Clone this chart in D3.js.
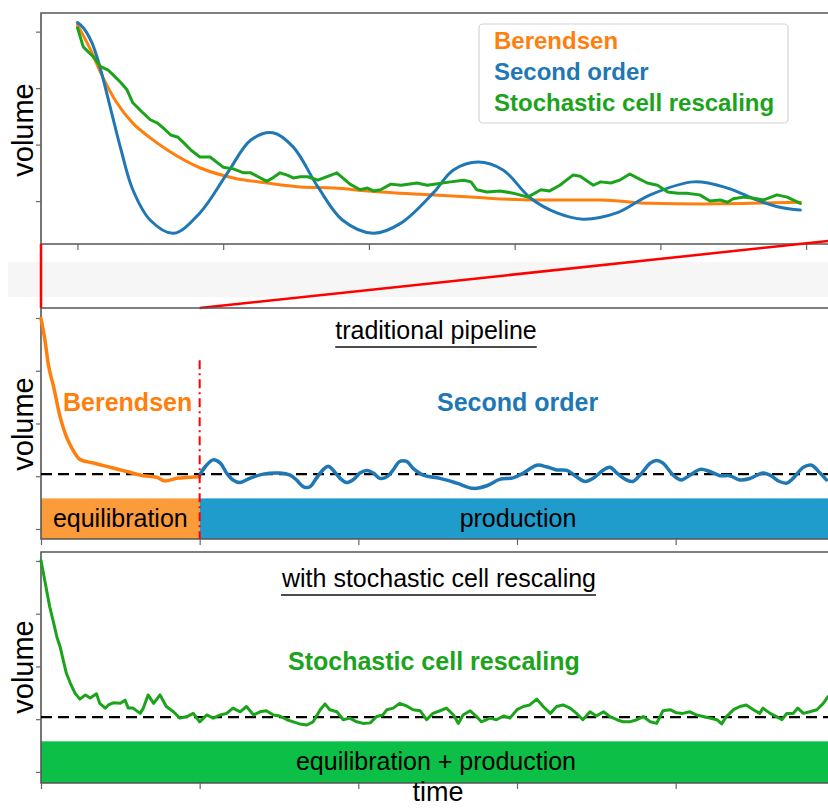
<!DOCTYPE html>
<html>
<head>
<meta charset="utf-8">
<script src="https://cdn.jsdelivr.net/npm/d3@7"></script>
<style>
  body { margin: 0; background: #fff; }
  text { font-family: "Liberation Sans", Arial, Helvetica, sans-serif; }
</style>
</head>
<body>
<div id="chart"></div>
<script>
// ---- data (time, volume) ----
// top panel: zoom on the start of the run
var zoomBerendsen = [[0,41.2],[0.9,36.8],[1.6,32.7],[2.7,27.4],[3.8,23.8],[5.0,21.2],[6.2,19.0],[8.4,15.9],
  [10.7,14.1],[13.0,13.2],[15.3,12.5],[17.6,12.3],[19.9,11.8],[23.5,11.2],[27.0,10.7],[31.3,10.2],
  [35.9,10.2],[39.3,9.6],[42.7,9.5],[46.2,9.6],[49.6,9.8]];
var zoomSecondOrder = [[0,41.6],[0.4,40.7],[1.0,38.0],[1.6,33.2],[2.3,26.1],[3.0,19.0],[3.8,12.0],[5.0,6.6],
  [6.6,4.3],[8.4,7.9],[10.3,15.0],[11.9,20.8],[13.4,22.1],[14.8,19.6],[16.5,12.5],[18.2,6.6],[20.3,4.3],
  [22.2,6.1],[24.4,11.4],[25.8,15.5],[27.5,16.9],[29.2,15.5],[31.1,10.5],[32.9,7.9],[34.7,6.8],[37.0,7.9],
  [39.3,11.1],[42.3,13.4],[44.6,12.3],[46.6,10.2],[48.2,8.9],[49.6,8.4]];
var zoomStochastic = [[0,40.7],[0.4,37.3],[1.1,35.5],[1.6,33.8],[2.1,33.2],[2.5,32.2],[3.0,30.9],[3.4,29.7],
  [3.8,27.4],[4.5,25.6],[5.0,24.4],[5.5,23.8],[5.9,22.9],[6.4,21.7],[6.9,21.3],[7.3,20.3],[7.8,19.0],
  [8.4,17.8],[9.1,17.8],[10.0,16.0],[10.7,15.7],[11.4,15.0],[11.9,15.0],[12.4,14.3],[13.0,13.5],[13.4,14.1],
  [13.9,15.0],[14.4,14.6],[14.8,14.1],[15.3,14.3],[15.8,14.3],[16.5,13.7],[16.9,14.1],[17.4,14.6],[17.8,15.0],
  [18.2,14.1],[18.7,13.0],[19.4,12.0],[19.9,12.3],[20.3,11.8],[20.8,12.0],[21.5,13.0],[22.2,12.8],[23.3,13.2],
  [24.0,12.8],[25.6,13.4],[26.5,13.7],[27.0,13.4],[27.4,12.0],[28.1,11.6],[29.0,11.8],[29.9,11.4],[30.9,10.7],
  [31.8,12.0],[32.4,11.8],[33.1,12.8],[34.0,14.6],[34.5,14.4],[35.4,12.8],[35.9,13.4],[36.6,13.2],[37.2,13.7],
  [37.9,14.8],[38.4,14.1],[39.1,13.2],[39.8,12.8],[40.5,11.6],[41.2,11.4],[41.8,11.4],[42.7,11.1],[43.4,10.0],
  [44.1,10.2],[44.6,9.8],[45.0,10.4],[45.7,10.7],[46.4,10.5],[47.1,10.2],[48.0,11.1],[48.7,10.7],[49.6,9.6]];
var zoomTicksX = [0, 10, 20, 30, 40, 50];
var zoomTicksY = [10, 20, 30, 40];

// middle panel: traditional pipeline
var runBerendsen = [[0,49.9],[0.5,45.8],[0.9,41.4],[1.6,36.9],[2.4,31.3],[3.2,27.5],[3.9,25.3],[4.9,23.2],
  [6.6,22.5],[8.7,21.7],[10.8,20.9],[12.9,20.1],[14.6,19.8],[15.6,19.1],[17.1,19.6],[18.8,19.8],[20.0,19.9]];
var runSecondOrder = [[20.0,20.2],[20.7,21.8],[21.7,23.1],[22.6,22.5],[23.4,20.6],[24.2,19.3],[25.1,18.8],
  [26.3,19.6],[28.0,20.4],[30.1,20.6],[31.4,20.2],[32.2,19.3],[33.1,18.0],[33.9,18.0],[34.7,19.6],[35.6,21.3],
  [36.2,21.9],[36.8,21.2],[37.7,19.6],[38.5,18.8],[39.4,19.4],[40.2,20.6],[41.1,21.1],[41.9,20.6],[42.7,19.6],
  [43.6,19.9],[44.4,21.2],[45.2,22.8],[46.1,22.8],[46.9,21.5],[48.2,20.2],[50.3,19.6],[52.4,18.7],[54.5,17.7],
  [56.2,18.2],[57.8,19.4],[59.5,19.7],[60.8,20.6],[62.5,22.1],[63.7,21.8],[65.0,21.2],[66.3,21.1],[67.5,19.9],
  [68.6,19.0],[69.6,19.6],[70.9,21.2],[71.7,21.7],[72.6,20.6],[73.8,19.3],[74.6,19.0],[75.5,20.2],[76.8,22.5],
  [77.6,23.0],[78.4,22.5],[79.7,20.2],[80.7,19.3],[81.8,20.2],[83.1,21.3],[84.3,20.9],[85.6,20.1],[86.8,20.1],
  [88.1,19.3],[89.4,19.6],[91.0,20.6],[91.9,20.2],[93.1,19.0],[94.0,18.7],[94.8,19.6],[96.1,21.7],[97.1,22.1],
  [98.2,20.6],[99.0,19.3]];

// bottom panel: stochastic cell rescaling for the whole run
var runStochastic = [[0,50.1],[0.3,47.7],[0.7,44.5],[1.1,41.3],[1.6,38.2],[2.0,35.6],[2.4,33.8],[2.8,31.2],
  [3.2,28.7],[3.7,26.8],[4.3,24.9],[4.9,23.8],[5.6,24.6],[6.2,24.0],[7.0,24.8],[7.4,23.0],[8.1,22.1],[8.5,22.7],
  [9.1,23.1],[10.0,23.0],[10.6,23.6],[11.0,22.1],[11.6,22.1],[12.5,21.1],[12.9,22.1],[13.5,24.6],[14.2,23.0],
  [15.0,24.6],[15.8,22.4],[16.7,21.4],[17.5,20.2],[18.4,20.5],[19.2,21.1],[20.0,19.5],[20.9,20.8],[21.7,20.2],
  [22.6,20.8],[23.4,21.1],[24.2,22.1],[25.1,21.4],[25.9,22.4],[26.8,20.8],[27.6,21.4],[28.4,21.6],[29.3,20.8],
  [30.1,20.6],[31.0,19.9],[31.8,19.5],[32.6,19.1],[33.5,18.9],[34.3,19.5],[35.2,21.8],[35.8,22.9],[36.4,21.8],
  [37.3,21.4],[38.1,19.9],[38.9,20.2],[39.8,19.5],[40.6,19.2],[41.5,19.3],[42.3,20.5],[43.1,20.8],[43.6,21.8],
  [44.4,22.1],[45.2,23.0],[46.1,22.5],[46.9,21.8],[47.8,21.6],[48.6,19.9],[49.4,21.1],[50.3,21.6],[51.1,22.1],
  [52.0,20.8],[52.6,19.2],[53.2,20.8],[54.1,21.6],[54.9,20.5],[55.5,19.5],[56.6,20.2],[57.4,19.9],[58.3,20.6],
  [59.1,20.2],[60.0,21.8],[60.8,22.4],[61.6,22.7],[62.5,23.8],[63.3,22.4],[64.2,21.1],[65.0,22.4],[65.8,22.7],
  [66.7,22.1],[67.5,21.1],[68.3,19.9],[69.2,21.4],[70.0,20.6],[70.9,21.4],[71.7,20.5],[72.6,19.9],[73.4,19.5],
  [74.2,19.5],[75.1,19.9],[75.9,20.5],[76.8,19.5],[77.6,19.2],[78.4,21.6],[79.3,21.8],[80.1,21.2],[80.9,21.1],
  [81.8,21.4],[82.6,20.8],[83.5,20.5],[84.3,20.2],[85.2,19.9],[85.8,19.1],[86.4,20.5],[87.3,21.8],[88.1,22.4],
  [88.9,22.7],[89.8,21.8],[90.6,21.1],[91.0,22.1],[91.9,21.1],[92.7,20.5],[93.4,19.9],[94.0,21.1],[94.8,21.1],
  [95.4,22.1],[96.1,21.1],[96.9,21.4],[97.8,21.8],[98.6,23.0],[99.2,24.3]];

var runTicksX = [0, 20, 40, 60, 80];
var runTicksY = [10, 20, 30, 40, 50];
var targetVolume = 20.4;     // dashed reference line
var equilibrationEnd = 20;   // switch from Berendsen to second order
var phaseBarTop = 15.8;      // top of the phase bars, in volume units

var orange = '#ff7f0e', blue = '#1f77b4', green = '#1ca31c';

var W = 828, H = 809;
var svg = d3.select('#chart').append('svg')
    .attr('width', W)
    .attr('height', H);

// scales
var xZoom = d3.scaleLinear().domain([-2.5, 51.5]).range([41, 828]);
var yZoom = d3.scaleLinear().domain([2.4, 43.3]).range([244, 13]);
var xRun = d3.scaleLinear().domain([0, 99.2]).range([41, 828]);
var yMid = d3.scaleLinear().domain([8.1, 51.9]).range([539, 308]);
var yLow = d3.scaleLinear().domain([7.9, 51.7]).range([783, 552]);

function frame(x, y) {
    var x0 = x.range()[0], x1 = x.range()[1];
    var y0 = y.range()[0], y1 = y.range()[1];
    svg.append('path')
        .attr('d', 'M' + x1 + ',' + y1 + 'H' + x0 + 'V' + y0 + 'H' + x1)
        .attr('fill', 'none')
        .attr('stroke', '#555')
        .attr('stroke-width', 1.6);
}

function axes(x, y, xt, yt) {
    var gx = svg.append('g')
        .attr('transform', 'translate(0,' + y.range()[0] + ')')
        .call(d3.axisBottom(x).tickValues(xt).tickSize(6).tickFormat(''));
    var gy = svg.append('g')
        .attr('transform', 'translate(' + x.range()[0] + ',0)')
        .call(d3.axisLeft(y).tickValues(yt).tickSize(5).tickFormat(''));
    [gx, gy].forEach(function (g) {
        g.select('.domain').remove();
        g.selectAll('.tick line').attr('stroke', '#666').attr('stroke-width', 1.2);
    });
}

function curve(data, x, y, color, width, shape) {
    var line = d3.line()
        .x(function (d) { return x(d[0]); })
        .y(function (d) { return y(d[1]); })
        .curve(shape || d3.curveLinear);
    svg.append('path')
        .datum(data)
        .attr('d', line)
        .attr('fill', 'none')
        .attr('stroke', color)
        .attr('stroke-width', width)
        .attr('stroke-linejoin', 'round')
        .attr('stroke-linecap', 'round');
}

function volumeLabel(cy) {
    svg.append('text')
        .attr('transform', 'translate(33,' + cy + ') rotate(-90)')
        .attr('text-anchor', 'middle')
        .style('font-size', '29px')
        .text('volume');
}

function heading(txt, cx, baseline) {
    var t = svg.append('text')
        .attr('x', cx).attr('y', baseline)
        .attr('text-anchor', 'middle')
        .style('font-size', '25px')
        .text(txt);
    var bb = t.node().getBBox();
    svg.append('line')
        .attr('x1', bb.x).attr('x2', bb.x + bb.width)
        .attr('y1', baseline + 8).attr('y2', baseline + 8)
        .attr('stroke', '#111').attr('stroke-width', 1.6);
}

function boldLabel(txt, x, baseline, color, size) {
    svg.append('text')
        .attr('x', x).attr('y', baseline)
        .style('font-size', (size || 25) + 'px')
        .style('font-weight', 'bold')
        .attr('fill', color)
        .text(txt);
}

function refLine(y) {
    svg.append('line')
        .attr('x1', xRun(0)).attr('x2', xRun.range()[1])
        .attr('y1', y(targetVolume)).attr('y2', y(targetVolume))
        .attr('stroke', '#000')
        .attr('stroke-width', 2.4)
        .attr('stroke-dasharray', '11,6');
}

////////////////////////////////
// top panel
frame(xZoom, yZoom);
axes(xZoom, yZoom, zoomTicksX, zoomTicksY);
curve(zoomBerendsen, xZoom, yZoom, orange, 3, d3.curveMonotoneX);
curve(zoomSecondOrder, xZoom, yZoom, blue, 3, d3.curveCatmullRom);
curve(zoomStochastic, xZoom, yZoom, green, 3);
volumeLabel(130);

// legend
svg.append('rect')
    .attr('x', 479).attr('y', 24).attr('width', 309).attr('height', 99)
    .attr('rx', 4)
    .attr('fill', '#fff').attr('fill-opacity', 0.85)
    .attr('stroke', '#d4d4d4').attr('stroke-width', 1.2);
boldLabel('Berendsen', 494, 49, orange, 24);
boldLabel('Second order', 494, 80, blue, 24);
boldLabel('Stochastic cell rescaling', 494, 111, green, 24);

////////////////////////////////
// connector between zoom and full run
svg.append('rect')
    .attr('x', 8).attr('y', 262).attr('width', 820).attr('height', 35)
    .attr('fill', '#f6f6f6');
svg.append('line')
    .attr('x1', xRun(0)).attr('x2', xRun(0))
    .attr('y1', yZoom.range()[0]).attr('y2', yMid.range()[1])
    .attr('stroke', 'red').attr('stroke-width', 2.5);
svg.append('line')
    .attr('x1', xRun(equilibrationEnd)).attr('y1', yMid.range()[1])
    .attr('x2', xZoom.range()[1]).attr('y2', yZoom.range()[0] - 3)
    .attr('stroke', 'red').attr('stroke-width', 2.5);

////////////////////////////////
// middle panel: traditional pipeline
svg.append('rect')
    .attr('x', xRun(0)).attr('y', yMid(phaseBarTop))
    .attr('width', xRun(equilibrationEnd) - xRun(0))
    .attr('height', yMid.range()[0] - yMid(phaseBarTop))
    .attr('fill', '#fb9b3a');
svg.append('rect')
    .attr('x', xRun(equilibrationEnd)).attr('y', yMid(phaseBarTop))
    .attr('width', xRun.range()[1] - xRun(equilibrationEnd))
    .attr('height', yMid.range()[0] - yMid(phaseBarTop))
    .attr('fill', '#1f9ccc');
frame(xRun, yMid);
axes(xRun, yMid, runTicksX, runTicksY);
refLine(yMid);
curve(runBerendsen, xRun, yMid, orange, 3.5, d3.curveMonotoneX);
curve(runSecondOrder, xRun, yMid, blue, 3.5, d3.curveCatmullRom);
svg.append('line')
    .attr('x1', xRun(equilibrationEnd)).attr('x2', xRun(equilibrationEnd))
    .attr('y1', yMid(42)).attr('y2', yMid.range()[0])
    .attr('stroke', 'red').attr('stroke-width', 2)
    .attr('stroke-dasharray', '9,4,2,4');
volumeLabel(424);
heading('traditional pipeline', 436, 339);
boldLabel('Berendsen', 63, 411, orange);
boldLabel('Second order', 437, 411, blue);
svg.append('text')
    .attr('x', (xRun(0) + xRun(equilibrationEnd)) / 2).attr('y', 527)
    .attr('text-anchor', 'middle').style('font-size', '25px')
    .text('equilibration');
svg.append('text')
    .attr('x', 518).attr('y', 527)
    .attr('text-anchor', 'middle').style('font-size', '25px')
    .text('production');

////////////////////////////////
// bottom panel: stochastic cell rescaling
svg.append('rect')
    .attr('x', xRun(0)).attr('y', yLow(phaseBarTop))
    .attr('width', xRun.range()[1] - xRun(0))
    .attr('height', yLow.range()[0] - yLow(phaseBarTop))
    .attr('fill', '#0cbf46');
frame(xRun, yLow);
axes(xRun, yLow, runTicksX, runTicksY);
refLine(yLow);
curve(runStochastic, xRun, yLow, green, 3);
volumeLabel(667);
heading('with stochastic cell rescaling', 439, 587);
boldLabel('Stochastic cell rescaling', 288, 670, green);
svg.append('text')
    .attr('x', 436).attr('y', 770)
    .attr('text-anchor', 'middle').style('font-size', '25px')
    .text('equilibration + production');

svg.append('text')
    .attr('x', 438).attr('y', 801)
    .attr('text-anchor', 'middle').style('font-size', '27px')
    .text('time');
</script>
</body>
</html>
